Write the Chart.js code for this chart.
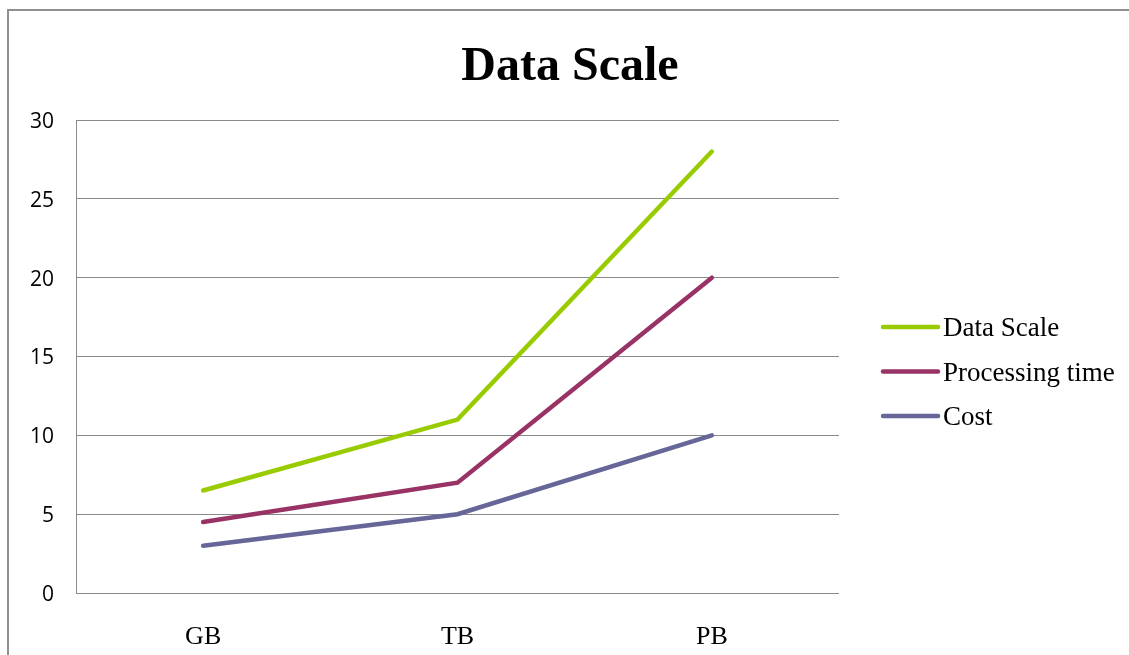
<!DOCTYPE html>
<html>
<head>
<meta charset="utf-8">
<script src="https://cdn.jsdelivr.net/npm/chart.js@4.4.1/dist/chart.umd.min.js"></script>
<style>
  html, body { margin: 0; padding: 0; background: #fff; }
  #wrap { width: 1129px; height: 655px; }
</style>
</head>
<body>
<div id="wrap"><canvas id="chart" width="1129" height="655"></canvas></div>
<script>
// Chart data
const categories = ["GB", "TB", "PB"];
const dataScale = [6.5, 11, 28];
const processingTime = [4.5, 7, 20];
const cost = [3, 5, 10];
const yTicks = [0, 5, 10, 15, 20, 25, 30];

const serif = "'Liberation Serif', 'Times New Roman', serif";
const sans = "'Open Sans', 'Liberation Sans', sans-serif";

// Frame, title and legend drawn on top of the Chart.js layout
const decorations = {
  id: "decorations",
  beforeDraw(chart) {
    const ctx = chart.ctx;
    ctx.save();
    ctx.fillStyle = "#fff";
    ctx.fillRect(0, 0, chart.width, chart.height);
    ctx.strokeStyle = "#8f8f8f";
    ctx.lineWidth = 2;
    ctx.beginPath();
    ctx.moveTo(8, chart.height);
    ctx.lineTo(8, 10);
    ctx.lineTo(chart.width, 10);
    ctx.stroke();
    ctx.restore();
  },
  afterDraw(chart) {
    const ctx = chart.ctx;
    ctx.save();
    // title
    ctx.fillStyle = "#000";
    ctx.font = "bold 48px " + serif;
    ctx.textAlign = "center";
    ctx.textBaseline = "middle";
    ctx.fillText("Data Scale", 570, 68);

    // legend
    ctx.font = "27px " + serif;
    ctx.textAlign = "left";
    chart.data.datasets.forEach((ds, i) => {
      const y = 327 + i * 44.5;
      ctx.strokeStyle = ds.borderColor;
      ctx.lineWidth = 4.5;
      ctx.lineCap = "round";
      ctx.beginPath();
      ctx.moveTo(883, y);
      ctx.lineTo(938, y);
      ctx.stroke();
      ctx.fillStyle = "#000";
      ctx.fillText(ds.label, 943, y + 2);
    });
    ctx.restore();
  },
};

const ctx = document.getElementById("chart").getContext("2d");

new Chart(ctx, {
  type: "line",
  data: {
    labels: categories,
    datasets: [
      { label: "Data Scale", data: dataScale, borderColor: "#99cc00" },
      { label: "Processing time", data: processingTime, borderColor: "#993366" },
      { label: "Cost", data: cost, borderColor: "#666699" },
    ],
  },
  options: {
    responsive: false,
    animation: false,
    devicePixelRatio: 1,
    layout: { padding: { top: 120, right: 290, left: 0, bottom: 0 } },
    elements: {
      line: { borderWidth: 4.5, tension: 0, borderCapStyle: "round", fill: false },
      point: { radius: 0, hoverRadius: 0 },
    },
    plugins: {
      legend: { display: false },
      title: { display: false },
      tooltip: { enabled: false },
    },
    scales: {
      x: {
        offset: true,
        grid: { display: false, drawTicks: false },
        border: { display: false },
        ticks: { color: "#000", font: { family: serif, size: 26 }, padding: 29 },
        afterFit: (scale) => { scale.height = 62; },
      },
      y: {
        min: 0,
        max: 30,
        grid: { color: "#8a8a8a", lineWidth: 1, drawTicks: false },
        border: { display: true, color: "#8a8a8a", width: 1 },
        ticks: { color: "#000", font: { family: sans, size: 21 }, padding: 22, labelOffset: 2 },
        afterBuildTicks: (scale) => { scale.ticks = yTicks.map((v) => ({ value: v })); },
        afterFit: (scale) => { scale.width = 76; },
      },
    },
  },
  plugins: [decorations],
});
</script>
</body>
</html>
